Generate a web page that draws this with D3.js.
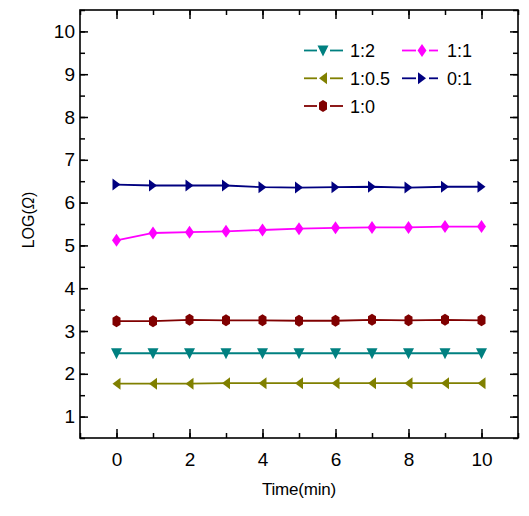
<!DOCTYPE html>
<html>
<head>
<meta charset="utf-8">
<script src="https://cdn.jsdelivr.net/npm/d3@7"></script>
<style>
  html, body { margin: 0; padding: 0; background: #fff; }
  svg { display: block; font-family: "Liberation Sans", Arial, sans-serif; }
</style>
</head>
<body>
<svg id="chart" width="529" height="516"></svg>
<script>
const times = [0, 1, 2, 3, 4, 5, 6, 7, 8, 9, 10];
const s12   = [2.48, 2.48, 2.48, 2.48, 2.48, 2.48, 2.48, 2.48, 2.48, 2.48, 2.48];
const s105  = [1.77, 1.77, 1.77, 1.78, 1.78, 1.78, 1.78, 1.78, 1.78, 1.78, 1.78];
const s10   = [3.23, 3.23, 3.26, 3.25, 3.25, 3.24, 3.24, 3.26, 3.25, 3.26, 3.25];
const s11   = [5.12, 5.29, 5.31, 5.33, 5.36, 5.39, 5.41, 5.42, 5.42, 5.44, 5.44];
const s01   = [6.42, 6.40, 6.40, 6.40, 6.36, 6.35, 6.36, 6.37, 6.35, 6.37, 6.37];
const seriesNames = ["1:2", "1:1", "1:0.5", "0:1", "1:0"];
const xTicks = [0, 2, 4, 6, 8, 10];
const yTicks = [1, 2, 3, 4, 5, 6, 7, 8, 9, 10];

const series = [
  { name: "1:2",   values: s12,  color: "#008080", shape: "down" },
  { name: "1:1",   values: s11,  color: "#ff00ff", shape: "diamond" },
  { name: "1:0.5", values: s105, color: "#808000", shape: "left" },
  { name: "0:1",   values: s01,  color: "#000080", shape: "right" },
  { name: "1:0",   values: s10,  color: "#800000", shape: "hex" }
];

const shapes = {
  down: "M-5.5,-5 L5.5,-5 L0,6 Z",
  left: "M4,-6 L4,6 L-4,0 Z",
  right: "M-4,-6 L-4,6 L4,0 Z",
  diamond: "M0,-6.5 L4.5,0 L0,6.5 L-4.5,0 Z",
  hex: "M0,-6 L4,-3.5 L4,3.5 L0,6 L-4,3.5 L-4,-3.5 Z"
};

const L = 80, R = 518, T = 10, B = 438;
const svg = d3.select("#chart");
const x = d3.scaleLinear().domain([-1, 11]).range([L, R]);
const y = d3.scaleLinear().domain([0.5, 10.5]).range([B, T]);

const minorX = d3.range(-1, 11.01, 1);
const minorY = d3.range(0.5, 10.51, 0.5);

function styleAxis(g) {
  g.select(".domain").remove();
  g.selectAll("line").attr("stroke", "#000").attr("stroke-width", 1.5);
  g.selectAll("text").attr("font-size", "19px").attr("fill", "#000")
    .attr("font-family", "Liberation Sans, Arial, sans-serif");
}

// minor ticks
svg.append("g").attr("transform", `translate(0,${B})`)
  .call(d3.axisTop(x).tickValues(minorX).tickSize(5).tickFormat(""))
  .call(styleAxis);
svg.append("g").attr("transform", `translate(0,${T})`)
  .call(d3.axisBottom(x).tickValues(minorX).tickSize(5).tickFormat(""))
  .call(styleAxis);
svg.append("g").attr("transform", `translate(${L},0)`)
  .call(d3.axisRight(y).tickValues(minorY).tickSize(5).tickFormat(""))
  .call(styleAxis);
svg.append("g").attr("transform", `translate(${R},0)`)
  .call(d3.axisLeft(y).tickValues(minorY).tickSize(5).tickFormat(""))
  .call(styleAxis);

// major ticks
svg.append("g").attr("transform", `translate(0,${B})`)
  .call(d3.axisTop(x).tickValues(xTicks).tickSize(9).tickFormat(""))
  .call(styleAxis);
svg.append("g").attr("transform", `translate(0,${T})`)
  .call(d3.axisBottom(x).tickValues(xTicks).tickSize(9).tickFormat(""))
  .call(styleAxis);
svg.append("g").attr("transform", `translate(${L},0)`)
  .call(d3.axisRight(y).tickValues(yTicks).tickSize(8).tickFormat(""))
  .call(styleAxis);
svg.append("g").attr("transform", `translate(${R},0)`)
  .call(d3.axisLeft(y).tickValues(yTicks).tickSize(8).tickFormat(""))
  .call(styleAxis);

// labels
svg.append("g").attr("transform", `translate(0,${B})`)
  .call(d3.axisBottom(x).tickValues(xTicks).tickSize(0).tickPadding(15).tickFormat(d3.format("d")))
  .call(styleAxis);
svg.append("g").attr("transform", `translate(${L},0)`)
  .call(d3.axisLeft(y).tickValues(yTicks).tickSize(0).tickPadding(5).tickFormat(d3.format("d")))
  .call(styleAxis);

// frame
svg.append("rect").attr("x", L).attr("y", T).attr("width", R - L).attr("height", B - T)
  .attr("fill", "none").attr("stroke", "#000").attr("stroke-width", 1.6);

// axis titles
svg.append("text").attr("x", (L + R) / 2).attr("y", 495)
  .attr("text-anchor", "middle").attr("font-size", "17px").attr("letter-spacing", "-0.2px")
  .text("Time(min)");
const yt = svg.append("text").attr("transform", "translate(34,220) rotate(-90)")
  .attr("text-anchor", "middle").attr("font-size", "16px");
yt.append("tspan").text("LOG(");
yt.append("tspan").attr("font-style", "italic").text("Ω");
yt.append("tspan").text(")");

// series
const line = d3.line().x((d, i) => x(times[i])).y(d => y(d));
series.forEach(s => {
  svg.append("path").datum(s.values).attr("d", line)
    .attr("fill", "none").attr("stroke", s.color).attr("stroke-width", 1.8);
  svg.append("g").selectAll("path").data(s.values).join("path")
    .attr("transform", (d, i) => `translate(${x(times[i])},${y(d)})`)
    .attr("d", shapes[s.shape]).attr("fill", s.color);
});

// legend
const legendPos = [
  { col: 0, row: 0 }, { col: 1, row: 0 },
  { col: 0, row: 1 }, { col: 1, row: 1 },
  { col: 0, row: 2 }
];
const colX = [{ l1: 304, l2: 317, m: 323, r1: 330, r2: 343, t: 350 },
              { l1: 402, l2: 416, m: 422, r1: 429, r2: 438, t: 447 }];
const rowY = [50.5, 78.3, 106];
seriesNames.forEach((name, k) => {
  const s = series.find(d => d.name === name);
  const p = legendPos[k], c = colX[p.col], yy = rowY[p.row];
  const g = svg.append("g");
  g.append("line").attr("x1", c.l1).attr("x2", c.l2).attr("y1", yy).attr("y2", yy)
    .attr("stroke", s.color).attr("stroke-width", 1.8);
  g.append("line").attr("x1", c.r1).attr("x2", c.r2).attr("y1", yy).attr("y2", yy)
    .attr("stroke", s.color).attr("stroke-width", 1.8);
  g.append("path").attr("transform", `translate(${c.m},${yy})`).attr("d", shapes[s.shape]).attr("fill", s.color);
  g.append("text").attr("x", c.t).attr("y", yy + 6.5).attr("font-size", "18px").text(name);
});
</script>
</body>
</html>
